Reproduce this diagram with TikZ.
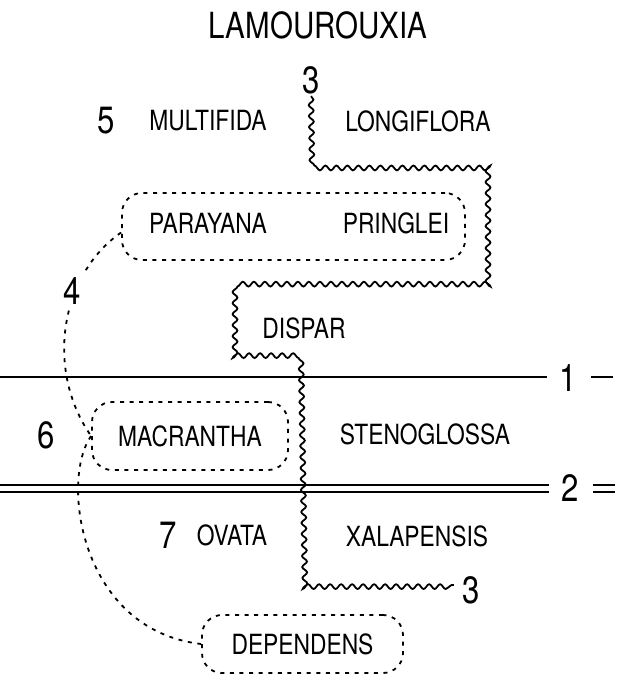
\documentclass[tikz,border=0pt]{standalone}
\usepackage{fontspec}
\setmainfont{TeX Gyre Heros}[FakeStretch=0.82]
\usetikzlibrary{decorations.pathmorphing}

\tikzset{
  taxon/.style={font=\fontsize{13.9}{16}\selectfont, inner sep=1pt},
  numlab/.style={font=\fontsize{19}{22}\selectfont, inner sep=1pt},
  grupo/.style={draw, dash pattern=on 2pt off 2.8pt, line width=0.9pt, rounded corners=10pt},
  ligacao/.style={dash pattern=on 2pt off 2.8pt, line width=0.9pt},
  ondulada/.style={decorate, decoration={snake, segment length=5.5pt, amplitude=1.2pt}, line width=0.9pt},
  limite/.style={line width=1pt},
  duplo/.style={double, double distance=2.5pt, line width=1pt},
}

\begin{document}
\begin{tikzpicture}[x=0.5pt, y=-0.5pt]
    \useasboundingbox (0,0) rectangle (623,674);
    \node[font=\fontsize{18}{20}\selectfont] (titulo) at (318,25) {LAMOUROUXIA};
    % nomes das especies
    \foreach \x/\y/\lab/\nm in {208/121/MULTIFIDA/multifida, 418/121/LONGIFLORA/longiflora,
        208/223/PARAYANA/parayana, 396/223/PRINGLEI/pringlei, 304/328/DISPAR/dispar,
        425/434/STENOGLOSSA/stenoglossa, 232/535/OVATA/ovata, 417/536/XALAPENSIS/xalapensis}{
        \node[taxon] (\nm) at (\x,\y) {\lab};
    }
    % numeros
    \foreach \x/\y/\lab/\nm in {311/80/3/tresA, 106/121/5/cinco, 568/378/1/um, 46/435/6/seis,
        570/488/2/dois, 168/535/7/sete, 471/590/3/tresB}{
        \node[numlab] (\nm) at (\x,\y) {\lab};
    }
    % grupos
    \node[grupo, minimum width=171.5pt, minimum height=33.5pt] (par) at (293.5,226.5) {};
    \node[grupo, taxon, minimum width=98pt, minimum height=34pt] (mac) at (190,436) {MACRANTHA};
    \node[grupo, taxon, minimum width=100.5pt, minimum height=29pt] (dep) at (302.5,644) {DEPENDENS};
    % limites 1 e 2
    \coordinate (l1) at (0,377);
    \coordinate (l2) at (0,488.5);
    \draw[limite, shorten >=5pt] (l1) -- (l1 -| um.west);
    \draw[limite, shorten <=6pt] (um.east |- l1) -- ++(34,0);
    \draw[duplo, shorten >=5pt] (l2) -- (l2 -| dois.west);
    \draw[duplo, shorten <=6pt] (dois.east |- l2) -- ++(34,0);
    % limite 3
    \coordinate (w8) at (300,585);
    \coordinate (w9) at ([xshift=-3pt]w8 -| tresB.west);
    \draw[ondulada] (tresA.south) -- (312,165) -- (485,165) -- (485,285) -- (230,285)
        -- (230,355) -- (296,355) -- (w8) -- (w9);
    % ligacoes
    \draw[ligacao] ([yshift=-3pt]par.west) .. controls (60,275) and (45,370) .. (mac.west);
    \draw[ligacao] (mac.west) .. controls (60,480) and (80,630) .. (dep.west);
    \node[numlab, fill=white, inner sep=2pt] (quatro) at (72,291) {4};
\end{tikzpicture}
\end{document}
